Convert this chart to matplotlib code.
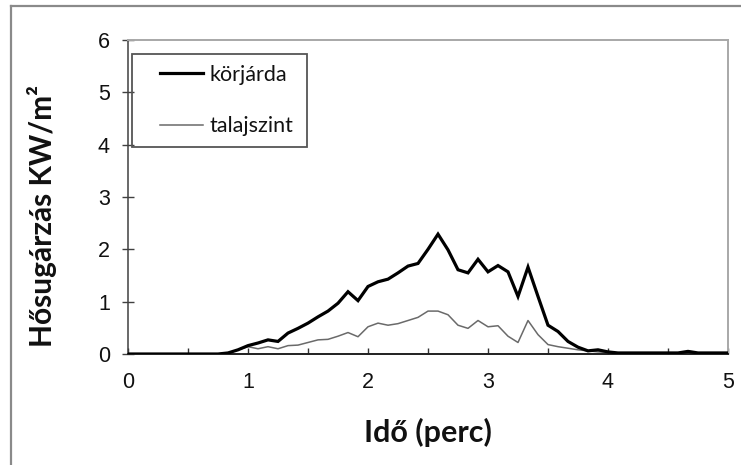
import matplotlib
matplotlib.use("Agg")
import matplotlib.pyplot as plt
import numpy as np
from matplotlib.lines import Line2D
from matplotlib.patches import Rectangle
from matplotlib.ticker import MultipleLocator

# time axis: one reading every 5 s (1/12 min), 0 .. 5 min
ido = np.arange(61) / 12.0

korjarda = [0.0, 0.0, 0.0, 0.0, 0.0, 0.0, 0.0, 0.0, 0.0, 0.0,
            0.02, 0.08, 0.16, 0.21, 0.27, 0.24, 0.40, 0.49, 0.59, 0.71,
            0.82, 0.97, 1.19, 1.02, 1.29, 1.38, 1.43, 1.55, 1.68, 1.73,
            2.00, 2.29, 1.99, 1.61, 1.55, 1.81, 1.57, 1.69, 1.57, 1.10,
            1.66, 1.10, 0.55, 0.43, 0.24, 0.13, 0.06, 0.08, 0.04, 0.02,
            0.02, 0.02, 0.02, 0.02, 0.02, 0.02, 0.05, 0.02, 0.02, 0.02,
            0.02]

talajszint = [0.0, 0.0, 0.0, 0.0, 0.0, 0.0, 0.0, 0.0, 0.0, 0.0,
              0.02, 0.08, 0.14, 0.10, 0.14, 0.10, 0.16, 0.17, 0.22, 0.27,
              0.28, 0.34, 0.41, 0.33, 0.52, 0.59, 0.55, 0.58, 0.64, 0.70,
              0.82, 0.82, 0.75, 0.55, 0.49, 0.64, 0.52, 0.54, 0.34, 0.22,
              0.64, 0.37, 0.18, 0.14, 0.11, 0.08, 0.06, 0.04, 0.03, 0.02,
              0.01, 0.01, 0.01, 0.01, 0.01, 0.01, 0.01, 0.01, 0.01, 0.01,
              0.01]

W, H = 741, 465
fig = plt.figure(figsize=(W / 100, H / 100), dpi=100)
fig.patch.set_facecolor("white")

# outer frame (left and top edges visible)
fig.add_artist(Line2D([11 / W, 11 / W], [0, 1 - 6 / H], transform=fig.transFigure,
                      color="#8a8a8a", lw=1.6))
fig.add_artist(Line2D([11 / W, 1], [1 - 6 / H, 1 - 6 / H], transform=fig.transFigure,
                      color="#8a8a8a", lw=1.6))

ax = fig.add_axes([128 / W, 1 - 354 / H, 600 / W, 314 / H])

ax.plot(ido, korjarda, color="black", lw=2.3, solid_joinstyle="miter", zorder=3)
ax.plot(ido, talajszint, color="#6a6a6a", lw=1.1, zorder=2)

ax.set_xlim(0, 5)
ax.set_ylim(0, 6)
ax.xaxis.set_major_locator(MultipleLocator(1))
ax.xaxis.set_minor_locator(MultipleLocator(0.5))
ax.yaxis.set_major_locator(MultipleLocator(1))

for side in ("top", "right"):
    ax.spines[side].set_color("#a8a8a8")
    ax.spines[side].set_linewidth(1.4)
ax.spines["left"].set_color("#404040")
ax.spines["left"].set_linewidth(1.1)
ax.spines["bottom"].set_color("#202020")
ax.spines["bottom"].set_linewidth(1.4)

ax.tick_params(axis="x", which="both", direction="in", length=4.5, width=1.0,
               color="#303030", pad=13)
ax.tick_params(axis="y", direction="inout", length=8, width=1.0,
               color="#404040", pad=9)
for lab in ax.get_xticklabels() + ax.get_yticklabels():
    lab.set_fontfamily("Liberation Sans")
    lab.set_fontsize(15.5)
    lab.set_color("#111111")

ax.text(-0.143, 0.44, "Hősugárzás KW/m²", transform=ax.transAxes,
        rotation=90, ha="center", va="center", fontsize=21.5,
        fontfamily="Lato", fontweight="bold", color="#111111")
fig.text(428 / W, 1 - 432 / H, "Idő (perc)", ha="center", va="center",
         fontsize=22, fontfamily="Lato", fontweight="bold", color="#111111")

# legend box
ax.add_patch(Rectangle((3.7 / 600, (354 - 147.3) / 314), 175 / 600, 93.3 / 314,
                       transform=ax.transAxes, fill=False, edgecolor="#555555",
                       lw=1.3, zorder=5, clip_on=False))
handles = [Line2D([], [], color="black", lw=2.3),
           Line2D([], [], color="#6a6a6a", lw=1.1)]
leg = ax.legend(handles, ["körjárda", "talajszint"], loc="upper left",
                bbox_to_anchor=((160 - 128) / 600, (354 - 65) / 314),
                frameon=False, borderpad=0, borderaxespad=0,
                handlelength=2.0, handletextpad=0.3, labelspacing=1.45,
                prop={"family": "Lato", "size": 15.5})
for t in leg.get_texts():
    t.set_color("#111111")

fig.savefig("out.png", dpi=100, facecolor="white")
